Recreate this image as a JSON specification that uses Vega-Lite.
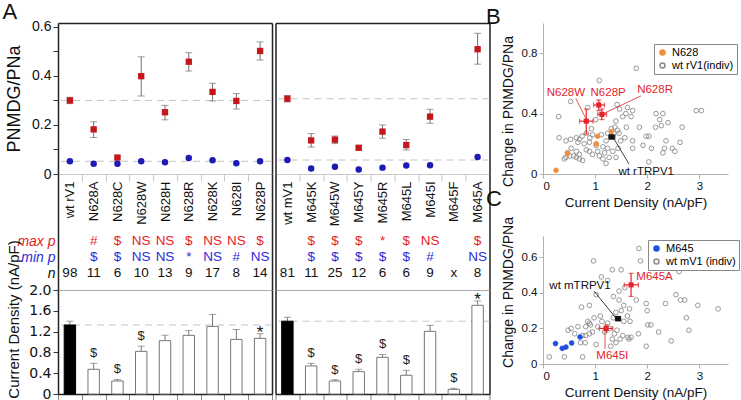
{
"$schema": "https://vega.github.io/schema/vega-lite/v6.json",
"padding": {"left": 2, "top": 0, "right": 0, "bottom": 0},
"background": "white",
"config": {
  "view": {"stroke": null},
  "font": "Liberation Sans",
  "axis": {"labelFont": "Liberation Sans", "titleFont": "Liberation Sans", "grid": false, "titleFontWeight": "normal", "labelColor": "#111", "titleColor": "#111"},
  "title": {"font": "Liberation Sans", "fontWeight": "normal", "fontSize": 22, "anchor": "start", "baseline": "bottom", "offset": 0, "color": "#111", "frame": "group"},
  "text": {"font": "Liberation Sans"}
},
"datasets": {
  "n628": [
    {"m":"wt rV1","grp":"wt","max":0.300,"maxlo":0.287,"maxhi":0.313,"min":0.052,"cd":1.327,"cdhi":1.40,"maxp":"","minp":"","n":"98","sig":""},
    {"m":"N628A","grp":"mut","max":0.182,"maxlo":0.149,"maxhi":0.213,"min":0.042,"cd":0.475,"cdhi":0.59,"maxp":"#","minp":"$","n":"11","sig":"$"},
    {"m":"N628C","grp":"mut","max":0.067,"maxlo":0.061,"maxhi":0.073,"min":0.042,"cd":0.25,"cdhi":0.28,"maxp":"$","minp":"$","n":"6","sig":"$"},
    {"m":"N628W","grp":"mut","max":0.399,"maxlo":0.318,"maxhi":0.478,"min":0.052,"cd":0.82,"cdhi":0.92,"maxp":"NS","minp":"NS","n":"10","sig":"$"},
    {"m":"N628H","grp":"mut","max":0.252,"maxlo":0.221,"maxhi":0.280,"min":0.048,"cd":1.025,"cdhi":1.13,"maxp":"NS","minp":"NS","n":"13","sig":""},
    {"m":"N628R","grp":"mut","max":0.458,"maxlo":0.420,"maxhi":0.495,"min":0.065,"cd":1.128,"cdhi":1.22,"maxp":"$","minp":"*","n":"9","sig":""},
    {"m":"N628K","grp":"mut","max":0.335,"maxlo":0.298,"maxhi":0.370,"min":0.056,"cd":1.30,"cdhi":1.53,"maxp":"NS","minp":"NS","n":"17","sig":""},
    {"m":"N628I","grp":"mut","max":0.298,"maxlo":0.265,"maxhi":0.328,"min":0.044,"cd":1.05,"cdhi":1.24,"maxp":"NS","minp":"#","n":"8","sig":""},
    {"m":"N628P","grp":"mut","max":0.502,"maxlo":0.465,"maxhi":0.539,"min":0.052,"cd":1.07,"cdhi":1.16,"maxp":"$","minp":"NS","n":"14","sig":"*"}
  ],
  "m645": [
    {"m":"wt mV1","grp":"wt","max":0.307,"maxlo":0.294,"maxhi":0.320,"min":0.057,"cd":1.40,"cdhi":1.475,"maxp":"","minp":"","n":"81","sig":""},
    {"m":"M645K","grp":"mut","max":0.137,"maxlo":0.110,"maxhi":0.165,"min":0.022,"cd":0.54,"cdhi":0.59,"maxp":"$","minp":"$","n":"11","sig":"$"},
    {"m":"M645W","grp":"mut","max":0.140,"maxlo":0.124,"maxhi":0.155,"min":0.030,"cd":0.25,"cdhi":0.275,"maxp":"$","minp":"$","n":"25","sig":"$"},
    {"m":"M645Y","grp":"mut","max":0.107,"maxlo":0.100,"maxhi":0.114,"min":0.018,"cd":0.43,"cdhi":0.475,"maxp":"$","minp":"$","n":"12","sig":"$"},
    {"m":"M645R","grp":"mut","max":0.173,"maxlo":0.146,"maxhi":0.200,"min":0.026,"cd":0.705,"cdhi":0.76,"maxp":"*","minp":"$","n":"6","sig":"$"},
    {"m":"M645L","grp":"mut","max":0.118,"maxlo":0.098,"maxhi":0.141,"min":0.035,"cd":0.36,"cdhi":0.455,"maxp":"$","minp":"$","n":"6","sig":"$"},
    {"m":"M645I","grp":"mut","max":0.234,"maxlo":0.207,"maxhi":0.264,"min":0.036,"cd":1.205,"cdhi":1.32,"maxp":"NS","minp":"#","n":"9","sig":""},
    {"m":"M645F","grp":"mut","max":null,"maxlo":null,"maxhi":null,"min":null,"cd":0.09,"cdhi":0.11,"maxp":"","minp":"","n":"x","sig":"$"},
    {"m":"M645A","grp":"mut","max":0.509,"maxlo":0.448,"maxhi":0.574,"min":0.069,"cd":1.705,"cdhi":1.79,"maxp":"$","minp":"NS","n":"8","sig":"*"}
  ],
  "bpts": [
    {"g":"wt rV1(indiv)","cd":1.08,"dp":0.62},{"g":"wt rV1(indiv)","cd":0.53,"dp":0.48},{"g":"wt rV1(indiv)","cd":0.30,"dp":0.38},{"g":"wt rV1(indiv)","cd":0.86,"dp":0.44},
    {"g":"wt rV1(indiv)","cd":1.01,"dp":0.36},{"g":"wt rV1(indiv)","cd":0.31,"dp":0.24},{"g":"wt rV1(indiv)","cd":0.53,"dp":0.23},{"g":"wt rV1(indiv)","cd":0.64,"dp":0.24},
    {"g":"wt rV1(indiv)","cd":0.70,"dp":0.23},{"g":"wt rV1(indiv)","cd":0.75,"dp":0.25},{"g":"wt rV1(indiv)","cd":0.83,"dp":0.27},{"g":"wt rV1(indiv)","cd":0.90,"dp":0.24},
    {"g":"wt rV1(indiv)","cd":0.95,"dp":0.26},{"g":"wt rV1(indiv)","cd":1.12,"dp":0.26},{"g":"wt rV1(indiv)","cd":1.24,"dp":0.27},{"g":"wt rV1(indiv)","cd":1.31,"dp":0.30},
    {"g":"wt rV1(indiv)","cd":1.21,"dp":0.22},{"g":"wt rV1(indiv)","cd":0.89,"dp":0.21},{"g":"wt rV1(indiv)","cd":0.79,"dp":0.20},{"g":"wt rV1(indiv)","cd":0.67,"dp":0.21},
    {"g":"wt rV1(indiv)","cd":0.54,"dp":0.17},{"g":"wt rV1(indiv)","cd":0.44,"dp":0.22},{"g":"wt rV1(indiv)","cd":0.64,"dp":0.15},{"g":"wt rV1(indiv)","cd":0.70,"dp":0.13},
    {"g":"wt rV1(indiv)","cd":0.59,"dp":0.12},{"g":"wt rV1(indiv)","cd":0.51,"dp":0.12},{"g":"wt rV1(indiv)","cd":0.44,"dp":0.11},{"g":"wt rV1(indiv)","cd":0.41,"dp":0.10},
    {"g":"wt rV1(indiv)","cd":0.64,"dp":0.11},{"g":"wt rV1(indiv)","cd":0.70,"dp":0.10},{"g":"wt rV1(indiv)","cd":0.76,"dp":0.09},{"g":"wt rV1(indiv)","cd":0.83,"dp":0.16},
    {"g":"wt rV1(indiv)","cd":0.89,"dp":0.15},{"g":"wt rV1(indiv)","cd":0.95,"dp":0.13},{"g":"wt rV1(indiv)","cd":1.05,"dp":0.15},{"g":"wt rV1(indiv)","cd":1.15,"dp":0.18},
    {"g":"wt rV1(indiv)","cd":1.08,"dp":0.12},{"g":"wt rV1(indiv)","cd":1.24,"dp":0.17},{"g":"wt rV1(indiv)","cd":1.34,"dp":0.15},{"g":"wt rV1(indiv)","cd":1.27,"dp":0.11},
    {"g":"wt rV1(indiv)","cd":1.40,"dp":0.11},{"g":"wt rV1(indiv)","cd":1.15,"dp":0.10},{"g":"wt rV1(indiv)","cd":1.21,"dp":0.07},{"g":"wt rV1(indiv)","cd":1.44,"dp":0.17},
    {"g":"wt rV1(indiv)","cd":1.49,"dp":0.22},{"g":"wt rV1(indiv)","cd":1.57,"dp":0.24},{"g":"wt rV1(indiv)","cd":1.60,"dp":0.31},{"g":"wt rV1(indiv)","cd":1.53,"dp":0.38},
    {"g":"wt rV1(indiv)","cd":1.40,"dp":0.35},{"g":"wt rV1(indiv)","cd":1.59,"dp":0.40},{"g":"wt rV1(indiv)","cd":1.79,"dp":0.70},{"g":"wt rV1(indiv)","cd":2.94,"dp":0.42},
    {"g":"wt rV1(indiv)","cd":3.04,"dp":0.42},{"g":"wt rV1(indiv)","cd":2.17,"dp":0.40},{"g":"wt rV1(indiv)","cd":2.30,"dp":0.40},{"g":"wt rV1(indiv)","cd":2.24,"dp":0.36},
    {"g":"wt rV1(indiv)","cd":2.40,"dp":0.34},{"g":"wt rV1(indiv)","cd":1.72,"dp":0.42},{"g":"wt rV1(indiv)","cd":1.62,"dp":0.44},{"g":"wt rV1(indiv)","cd":1.69,"dp":0.38},
    {"g":"wt rV1(indiv)","cd":1.85,"dp":0.31},{"g":"wt rV1(indiv)","cd":2.16,"dp":0.31},{"g":"wt rV1(indiv)","cd":2.27,"dp":0.32},{"g":"wt rV1(indiv)","cd":2.67,"dp":0.31},
    {"g":"wt rV1(indiv)","cd":1.98,"dp":0.25},{"g":"wt rV1(indiv)","cd":2.03,"dp":0.25},{"g":"wt rV1(indiv)","cd":1.72,"dp":0.22},{"g":"wt rV1(indiv)","cd":2.36,"dp":0.22},
    {"g":"wt rV1(indiv)","cd":2.63,"dp":0.21},{"g":"wt rV1(indiv)","cd":1.92,"dp":0.19},{"g":"wt rV1(indiv)","cd":2.08,"dp":0.17},{"g":"wt rV1(indiv)","cd":1.72,"dp":0.17},
    {"g":"wt rV1(indiv)","cd":2.33,"dp":0.17},{"g":"wt rV1(indiv)","cd":2.48,"dp":0.17},{"g":"wt rV1(indiv)","cd":2.53,"dp":0.15},{"g":"wt rV1(indiv)","cd":2.30,"dp":0.14},
    {"g":"wt rV1(indiv)","cd":2.03,"dp":0.08},{"g":"wt rV1(indiv)","cd":1.42,"dp":0.46},{"g":"wt rV1(indiv)","cd":1.47,"dp":0.43},{"g":"wt rV1(indiv)","cd":1.38,"dp":0.31},
    {"g":"wt rV1(indiv)","cd":1.43,"dp":0.29},{"g":"wt rV1(indiv)","cd":1.36,"dp":0.27},{"g":"wt rV1(indiv)","cd":1.02,"dp":0.19},{"g":"wt rV1(indiv)","cd":0.47,"dp":0.14},
    {"g":"wt rV1(indiv)","cd":1.18,"dp":0.14},{"g":"wt rV1(indiv)","cd":1.46,"dp":0.27},{"g":"wt rV1(indiv)","cd":0.93,"dp":0.30},
    {"g":"N628","cd":0.25,"dp":0.025},{"g":"N628","cd":0.47,"dp":0.135},{"g":"N628","cd":1.02,"dp":0.20},{"g":"N628","cd":1.05,"dp":0.25},{"g":"N628","cd":1.31,"dp":0.28}
  ],
  "berr": [
    {"name":"N628W","k":"mut","x":0.83,"xlo":0.70,"xhi":0.96,"y":0.35,"ylo":0.265,"yhi":0.43},
    {"name":"N628P","k":"mut","x":1.07,"xlo":0.97,"xhi":1.18,"y":0.457,"ylo":0.42,"yhi":0.49},
    {"name":"N628R","k":"mut","x":1.13,"xlo":1.05,"xhi":1.22,"y":0.395,"ylo":0.36,"yhi":0.43},
    {"name":"wt rTRPV1","k":"wt","x":1.32,"xlo":1.26,"xhi":1.38,"y":0.245,"ylo":0.232,"yhi":0.258}
  ],
  "blab": [
    {"t":"N628W","k":"mut","x":0.44,"y":0.535},
    {"t":"N628P","k":"mut","x":1.25,"y":0.535},
    {"t":"N628R","k":"mut","x":2.15,"y":0.556},
    {"t":"wt rTRPV1","k":"wt","x":1.98,"y":0.015}
  ],
  "blin": [
    {"k":"mut","x":0.63,"y":0.50,"x2":0.82,"y2":0.37},
    {"k":"mut","x":1.88,"y":0.517,"x2":1.16,"y2":0.40},
    {"k":"wt","x":1.65,"y":0.066,"x2":1.35,"y2":0.24}
  ],
  "cpts": [
    {"g":"wt mV1 (indiv)","cd":0.97,"dp":0.58},{"g":"wt mV1 (indiv)","cd":1.33,"dp":0.53},{"g":"wt mV1 (indiv)","cd":1.12,"dp":0.49},{"g":"wt mV1 (indiv)","cd":1.24,"dp":0.47},
    {"g":"wt mV1 (indiv)","cd":1.50,"dp":0.53},{"g":"wt mV1 (indiv)","cd":1.57,"dp":0.43},{"g":"wt mV1 (indiv)","cd":1.46,"dp":0.41},{"g":"wt mV1 (indiv)","cd":1.35,"dp":0.38},
    {"g":"wt mV1 (indiv)","cd":1.02,"dp":0.39},{"g":"wt mV1 (indiv)","cd":0.89,"dp":0.33},{"g":"wt mV1 (indiv)","cd":0.74,"dp":0.32},{"g":"wt mV1 (indiv)","cd":0.86,"dp":0.24},
    {"g":"wt mV1 (indiv)","cd":0.89,"dp":0.23},{"g":"wt mV1 (indiv)","cd":0.91,"dp":0.22},{"g":"wt mV1 (indiv)","cd":0.82,"dp":0.21},{"g":"wt mV1 (indiv)","cd":0.67,"dp":0.21},
    {"g":"wt mV1 (indiv)","cd":0.54,"dp":0.20},{"g":"wt mV1 (indiv)","cd":0.48,"dp":0.19},{"g":"wt mV1 (indiv)","cd":0.61,"dp":0.17},{"g":"wt mV1 (indiv)","cd":0.76,"dp":0.16},
    {"g":"wt mV1 (indiv)","cd":0.82,"dp":0.16},{"g":"wt mV1 (indiv)","cd":0.89,"dp":0.17},{"g":"wt mV1 (indiv)","cd":0.95,"dp":0.18},{"g":"wt mV1 (indiv)","cd":1.05,"dp":0.21},
    {"g":"wt mV1 (indiv)","cd":1.13,"dp":0.24},{"g":"wt mV1 (indiv)","cd":1.24,"dp":0.23},{"g":"wt mV1 (indiv)","cd":1.35,"dp":0.26},{"g":"wt mV1 (indiv)","cd":1.40,"dp":0.29},
    {"g":"wt mV1 (indiv)","cd":1.50,"dp":0.30},{"g":"wt mV1 (indiv)","cd":1.37,"dp":0.17},{"g":"wt mV1 (indiv)","cd":1.33,"dp":0.14},{"g":"wt mV1 (indiv)","cd":1.40,"dp":0.12},
    {"g":"wt mV1 (indiv)","cd":1.48,"dp":0.14},{"g":"wt mV1 (indiv)","cd":1.63,"dp":0.15},{"g":"wt mV1 (indiv)","cd":1.53,"dp":0.16},{"g":"wt mV1 (indiv)","cd":0.72,"dp":0.12},
    {"g":"wt mV1 (indiv)","cd":0.81,"dp":0.12},{"g":"wt mV1 (indiv)","cd":1.02,"dp":0.11},{"g":"wt mV1 (indiv)","cd":0.12,"dp":0.04},{"g":"wt mV1 (indiv)","cd":0.41,"dp":0.04},
    {"g":"wt mV1 (indiv)","cd":0.76,"dp":0.04},{"g":"wt mV1 (indiv)","cd":1.84,"dp":0.65},{"g":"wt mV1 (indiv)","cd":1.87,"dp":0.58},{"g":"wt mV1 (indiv)","cd":2.61,"dp":0.52},
    {"g":"wt mV1 (indiv)","cd":2.55,"dp":0.39},{"g":"wt mV1 (indiv)","cd":2.64,"dp":0.36},{"g":"wt mV1 (indiv)","cd":2.72,"dp":0.36},{"g":"wt mV1 (indiv)","cd":1.79,"dp":0.36},
    {"g":"wt mV1 (indiv)","cd":1.98,"dp":0.34},{"g":"wt mV1 (indiv)","cd":2.35,"dp":0.34},{"g":"wt mV1 (indiv)","cd":2.97,"dp":0.33},{"g":"wt mV1 (indiv)","cd":3.36,"dp":0.31},
    {"g":"wt mV1 (indiv)","cd":1.66,"dp":0.31},{"g":"wt mV1 (indiv)","cd":2.00,"dp":0.30},{"g":"wt mV1 (indiv)","cd":2.75,"dp":0.26},{"g":"wt mV1 (indiv)","cd":2.01,"dp":0.22},
    {"g":"wt mV1 (indiv)","cd":2.07,"dp":0.22},{"g":"wt mV1 (indiv)","cd":1.67,"dp":0.24},{"g":"wt mV1 (indiv)","cd":2.80,"dp":0.19},{"g":"wt mV1 (indiv)","cd":2.22,"dp":0.18},
    {"g":"wt mV1 (indiv)","cd":1.83,"dp":0.17},{"g":"wt mV1 (indiv)","cd":1.69,"dp":0.15},{"g":"wt mV1 (indiv)","cd":1.65,"dp":0.14},{"g":"wt mV1 (indiv)","cd":2.46,"dp":0.13},
    {"g":"wt mV1 (indiv)","cd":1.98,"dp":0.10},{"g":"wt mV1 (indiv)","cd":1.46,"dp":0.36},{"g":"wt mV1 (indiv)","cd":1.55,"dp":0.33},{"g":"wt mV1 (indiv)","cd":1.28,"dp":0.20},
    {"g":"wt mV1 (indiv)","cd":1.18,"dp":0.18},{"g":"wt mV1 (indiv)","cd":1.42,"dp":0.19},{"g":"wt mV1 (indiv)","cd":1.10,"dp":0.27},{"g":"wt mV1 (indiv)","cd":1.62,"dp":0.27},
    {"g":"wt mV1 (indiv)","cd":0.98,"dp":0.26},{"g":"wt mV1 (indiv)","cd":1.30,"dp":0.10},{"g":"wt mV1 (indiv)","cd":1.55,"dp":0.24},
    {"g":"M645","cd":0.24,"dp":0.115},{"g":"M645","cd":0.37,"dp":0.088},{"g":"M645","cd":0.44,"dp":0.095},{"g":"M645","cd":0.55,"dp":0.118},{"g":"M645","cd":0.71,"dp":0.152}
  ],
  "cerr": [
    {"name":"M645A","k":"mut","x":1.69,"xlo":1.56,"xhi":1.83,"y":0.445,"ylo":0.38,"yhi":0.51},
    {"name":"M645I","k":"mut","x":1.21,"xlo":1.08,"xhi":1.34,"y":0.20,"ylo":0.18,"yhi":0.22},
    {"name":"wt mTRPV1","k":"wt","x":1.44,"xlo":1.39,"xhi":1.49,"y":0.255,"ylo":0.245,"yhi":0.265}
  ],
  "clab": [
    {"t":"M645A","k":"mut","x":2.14,"y":0.49},
    {"t":"M645I","k":"mut","x":1.33,"y":0.045},
    {"t":"wt mTRPV1","k":"wt","x":0.71,"y":0.44}
  ],
  "clin": [
    {"k":"mut","x":1.19,"y":0.085,"x2":1.19,"y2":0.175},
    {"k":"wt","x":0.98,"y":0.41,"x2":1.40,"y2":0.258}
  ]
},
"hconcat": [
  {"title": {"text": "A", "frame": "bounds", "dx": -3, "offset": -4},
   "hconcat": [
    {"vconcat": [
      {"width":214,"height":151,
       "data":{"name":"n628"},
       "layer":[
         {"transform":[{"filter":"datum.grp == 'wt'"}],"mark":{"type":"rule","strokeDash":[7,5],"color":"#c4c4c4"},"encoding":{"y":{"field":"max","type":"quantitative","scale":{"domain":[0,0.616],"nice":false},"axis":null}}},
         {"transform":[{"filter":"datum.grp == 'wt'"}],"mark":{"type":"rule","strokeDash":[7,5],"color":"#c4c4c4"},"encoding":{"y":{"field":"min","type":"quantitative","axis":null}}},
         {"mark":{"type":"rule","color":"#707070"},"encoding":{
           "x":{"field":"m","type":"nominal","sort":null,"scale":{"type":"band","padding":0,"domain":["wt rV1","N628A","N628C","N628W","N628H","N628R","N628K","N628I","N628P"]},
                "axis":{"orient":"bottom","title":null,"domainColor":"#c8c8c8","tickColor":"#c8c8c8","tickSize":7,"tickBand":"extent","labelAngle":-90,"labelFontSize":13,"labelPadding":0,"labelColor":"#111"}},
           "y":{"field":"maxlo","type":"quantitative","axis":{"orient":"left","title":"PNMDG/PNa","values":[0,0.1,0.2,0.3,0.4,0.5,0.6],"labelExpr":"datum.value == 0 ? '0' : (round(datum.value * 10) % 2 == 0 ? format(datum.value, '.1f') : '')","domainColor":"#222","domainWidth":1.5,"tickColor":"#333","tickSize":5,"labelFontSize":14,"labelPadding":2,"titleFontSize":18,"titlePadding":8}},
           "y2":{"field":"maxhi"}}},
         {"mark":{"type":"tick","color":"#707070","size":7,"thickness":1,"orient":"horizontal"},"encoding":{"x":{"field":"m","type":"nominal","axis":null},"y":{"field":"maxlo","type":"quantitative","axis":null}}},
         {"mark":{"type":"tick","color":"#707070","size":7,"thickness":1,"orient":"horizontal"},"encoding":{"x":{"field":"m","type":"nominal","axis":null},"y":{"field":"maxhi","type":"quantitative","axis":null}}},
         {"mark":{"type":"square","filled":true,"color":"#c4161c","size":40,"opacity":1},"encoding":{"x":{"field":"m","type":"nominal","axis":null},"y":{"field":"max","type":"quantitative","axis":null}}},
         {"mark":{"type":"circle","color":"#1c1cb4","size":42,"opacity":1},"encoding":{"x":{"field":"m","type":"nominal","axis":null},"y":{"field":"min","type":"quantitative","axis":null}}},
         {"mark":{"type":"point","opacity":0},"encoding":{
           "x":{"field":"m","type":"nominal","axis":{"orient":"top","title":null,"labels":false,"ticks":false,"domainColor":"#222","domainWidth":1.5}},
           "y":{"field":"max","type":"quantitative","axis":{"orient":"right","title":null,"labels":false,"ticks":false,"domainColor":"#222","domainWidth":1.5}}}}
       ],
       "resolve":{"axis":{"x":"independent","y":"independent"}}
      },
      {"width":214,"height":116,
       "data":{"name":"n628"},
       "transform":[{"fold":["maxp","minp","n"],"as":["row","lab"]}],
       "layer":[
         {"mark":{"type":"text","fontSize":13.5,"baseline":"middle"},"encoding":{
           "x":{"field":"m","type":"nominal","scale":{"type":"band","padding":0,"domain":["wt rV1","N628A","N628C","N628W","N628H","N628R","N628K","N628I","N628P"]},"axis":null},
           "y":{"field":"row","type":"nominal","scale":{"type":"point","domain":["d0","d1","d2","d3","maxp","minp","n","d7"],"padding":0.125,"align":0.75},
                "axis":{"orient":"left","title":null,"ticks":false,"domainColor":"#222","domainWidth":1.5,"labelFontSize":14,"labelFontStyle":"italic","labelPadding":3,
                        "labelExpr":"datum.value == 'maxp' ? 'max p' : (datum.value == 'minp' ? 'min p' : (datum.value == 'n' ? 'n' : ''))",
                        "labelColor":{"condition":[{"test":"datum.value == 'maxp'","value":"#e4231f"},{"test":"datum.value == 'minp'","value":"#2b2bd6"}],"value":"#111"}}},
           "text":{"field":"lab"},
           "color":{"field":"row","type":"nominal","scale":{"domain":["maxp","minp","n"],"range":["#e4231f","#2b2bd6","#111111"]},"legend":null}}},
         {"mark":{"type":"point","opacity":0},"encoding":{"y":{"field":"row","type":"nominal","axis":{"orient":"right","title":null,"labels":false,"ticks":false,"domainColor":"#222","domainWidth":1.5}}}}
       ],
       "resolve":{"axis":{"y":"independent"}}
      },
      {"width":214,"height":104,
       "data":{"name":"n628"},
       "layer":[
         {"transform":[{"filter":"datum.grp == 'wt'"}],"mark":{"type":"rule","strokeDash":[7,5],"color":"#c4c4c4"},"encoding":{"y":{"field":"cd","type":"quantitative","scale":{"domain":[0,2],"nice":false},"axis":null}}},
         {"mark":{"type":"rule","color":"#777"},"encoding":{"x":{"field":"m","type":"nominal","scale":{"type":"band","padding":0,"domain":["wt rV1","N628A","N628C","N628W","N628H","N628R","N628K","N628I","N628P"]},"axis":null},"y":{"field":"cd","type":"quantitative","axis":null},"y2":{"field":"cdhi"}}},
         {"mark":{"type":"tick","color":"#777","size":7,"thickness":1,"orient":"horizontal"},"encoding":{"x":{"field":"m","type":"nominal","axis":null},"y":{"field":"cdhi","type":"quantitative","axis":null}}},
         {"mark":{"type":"bar","width":{"band":0.48},"strokeWidth":1},"encoding":{
           "x":{"field":"m","type":"nominal","axis":{"orient":"bottom","title":null,"labels":false,"domainColor":"#222","domainWidth":1.5,"tickColor":"#888","tickSize":6,"tickBand":"extent"}},
           "y":{"field":"cd","type":"quantitative","axis":{"orient":"left","title":"Current Density  (nA/pF)","values":[0,0.4,0.8,1.2,1.6,2],"labelExpr":"datum.value == 0 ? '0' : format(datum.value, '.1f')","labelFont":"DejaVu Sans","labelFontSize":14,"labelPadding":2,"tickColor":"#333","tickSize":5,"domainColor":"#222","domainWidth":1.5,"titleFontSize":15,"titlePadding":7,"titleY":29}},
           "fill":{"field":"grp","type":"nominal","scale":{"domain":["wt","mut"],"range":["#000000","#ffffff"]},"legend":null},
           "stroke":{"field":"grp","type":"nominal","scale":{"domain":["wt","mut"],"range":["#000000","#777777"]},"legend":null}}},
         {"transform":[{"filter":"datum.sig == '$'"}],"mark":{"type":"text","fontSize":13,"baseline":"middle","dy":-10,"fill":"#222222"},"encoding":{"x":{"field":"m","type":"nominal","axis":null},"y":{"field":"cdhi","type":"quantitative","axis":null},"text":{"field":"sig"}}},
         {"transform":[{"filter":"datum.sig == '*'"}],"mark":{"type":"text","fontSize":17,"baseline":"middle","dy":-1,"fill":"#111111"},"encoding":{"x":{"field":"m","type":"nominal","axis":null},"y":{"field":"cdhi","type":"quantitative","axis":null},"text":{"field":"sig"}}},
         {"mark":{"type":"point","opacity":0},"encoding":{
           "x":{"field":"m","type":"nominal","axis":{"orient":"top","title":null,"labels":false,"ticks":false,"domainColor":"#aaa","domainWidth":1}},
           "y":{"field":"cd","type":"quantitative","axis":{"orient":"right","title":null,"labels":false,"ticks":false,"domainColor":"#222","domainWidth":1.5}}}}
       ],
       "resolve":{"axis":{"x":"independent","y":"independent"}}
      }
    ], "spacing": 0, "bounds": "flush"},
    {"vconcat": [
      {"width":214,"height":151,
       "data":{"name":"m645"},
       "layer":[
         {"transform":[{"filter":"datum.grp == 'wt'"}],"mark":{"type":"rule","strokeDash":[7,5],"color":"#c4c4c4"},"encoding":{"y":{"field":"max","type":"quantitative","scale":{"domain":[0,0.616],"nice":false},"axis":null}}},
         {"transform":[{"filter":"datum.grp == 'wt'"}],"mark":{"type":"rule","strokeDash":[7,5],"color":"#c4c4c4"},"encoding":{"y":{"field":"min","type":"quantitative","axis":null}}},
         {"mark":{"type":"rule","color":"#707070"},"encoding":{
           "x":{"field":"m","type":"nominal","sort":null,"scale":{"type":"band","padding":0,"domain":["wt mV1","M645K","M645W","M645Y","M645R","M645L","M645I","M645F","M645A"]},
                "axis":{"orient":"bottom","title":null,"domainColor":"#c8c8c8","tickColor":"#c8c8c8","tickSize":7,"tickBand":"extent","labelAngle":-90,"labelFontSize":13,"labelPadding":0,"labelColor":"#111"}},
           "y":{"field":"maxlo","type":"quantitative","axis":{"orient":"left","title":null,"labels":false,"ticks":false,"domainColor":"#222","domainWidth":1.5}},
           "y2":{"field":"maxhi"}}},
         {"mark":{"type":"tick","color":"#707070","size":7,"thickness":1,"orient":"horizontal"},"encoding":{"x":{"field":"m","type":"nominal","axis":null},"y":{"field":"maxlo","type":"quantitative","axis":null}}},
         {"mark":{"type":"tick","color":"#707070","size":7,"thickness":1,"orient":"horizontal"},"encoding":{"x":{"field":"m","type":"nominal","axis":null},"y":{"field":"maxhi","type":"quantitative","axis":null}}},
         {"mark":{"type":"square","filled":true,"color":"#c4161c","size":40,"opacity":1},"encoding":{"x":{"field":"m","type":"nominal","axis":null},"y":{"field":"max","type":"quantitative","axis":null}}},
         {"mark":{"type":"circle","color":"#1c1cb4","size":42,"opacity":1},"encoding":{"x":{"field":"m","type":"nominal","axis":null},"y":{"field":"min","type":"quantitative","axis":null}}},
         {"mark":{"type":"point","opacity":0},"encoding":{
           "x":{"field":"m","type":"nominal","axis":{"orient":"top","title":null,"labels":false,"ticks":false,"domainColor":"#222","domainWidth":1.5}},
           "y":{"field":"max","type":"quantitative","axis":{"orient":"right","title":null,"labels":false,"ticks":false,"domainColor":"#222","domainWidth":1.5}}}}
       ],
       "resolve":{"axis":{"x":"independent","y":"independent"}}
      },
      {"width":214,"height":116,
       "data":{"name":"m645"},
       "transform":[{"fold":["maxp","minp","n"],"as":["row","lab"]}],
       "layer":[
         {"mark":{"type":"text","fontSize":13.5,"baseline":"middle"},"encoding":{
           "x":{"field":"m","type":"nominal","scale":{"type":"band","padding":0,"domain":["wt mV1","M645K","M645W","M645Y","M645R","M645L","M645I","M645F","M645A"]},"axis":null},
           "y":{"field":"row","type":"nominal","scale":{"type":"point","domain":["d0","d1","d2","d3","maxp","minp","n","d7"],"padding":0.125,"align":0.75},
                "axis":{"orient":"left","title":null,"labels":false,"ticks":false,"domainColor":"#222","domainWidth":1.5}},
           "text":{"field":"lab"},
           "color":{"field":"row","type":"nominal","scale":{"domain":["maxp","minp","n"],"range":["#e4231f","#2b2bd6","#111111"]},"legend":null}}},
         {"mark":{"type":"point","opacity":0},"encoding":{"y":{"field":"row","type":"nominal","axis":{"orient":"right","title":null,"labels":false,"ticks":false,"domainColor":"#222","domainWidth":1.5}}}}
       ],
       "resolve":{"axis":{"y":"independent"}}
      },
      {"width":214,"height":104,
       "data":{"name":"m645"},
       "layer":[
         {"transform":[{"filter":"datum.grp == 'wt'"}],"mark":{"type":"rule","strokeDash":[7,5],"color":"#c4c4c4"},"encoding":{"y":{"field":"cd","type":"quantitative","scale":{"domain":[0,2],"nice":false},"axis":null}}},
         {"mark":{"type":"rule","color":"#777"},"encoding":{"x":{"field":"m","type":"nominal","scale":{"type":"band","padding":0,"domain":["wt mV1","M645K","M645W","M645Y","M645R","M645L","M645I","M645F","M645A"]},"axis":null},"y":{"field":"cd","type":"quantitative","axis":null},"y2":{"field":"cdhi"}}},
         {"mark":{"type":"tick","color":"#777","size":7,"thickness":1,"orient":"horizontal"},"encoding":{"x":{"field":"m","type":"nominal","axis":null},"y":{"field":"cdhi","type":"quantitative","axis":null}}},
         {"mark":{"type":"bar","width":{"band":0.48},"strokeWidth":1},"encoding":{
           "x":{"field":"m","type":"nominal","axis":{"orient":"bottom","title":null,"labels":false,"domainColor":"#222","domainWidth":1.5,"tickColor":"#888","tickSize":6,"tickBand":"extent"}},
           "y":{"field":"cd","type":"quantitative","axis":{"orient":"left","title":null,"labels":false,"ticks":false,"domainColor":"#222","domainWidth":1.5}},
           "fill":{"field":"grp","type":"nominal","scale":{"domain":["wt","mut"],"range":["#000000","#ffffff"]},"legend":null},
           "stroke":{"field":"grp","type":"nominal","scale":{"domain":["wt","mut"],"range":["#000000","#777777"]},"legend":null}}},
         {"transform":[{"filter":"datum.sig == '$'"}],"mark":{"type":"text","fontSize":13,"baseline":"middle","dy":-10,"fill":"#222222"},"encoding":{"x":{"field":"m","type":"nominal","axis":null},"y":{"field":"cdhi","type":"quantitative","axis":null},"text":{"field":"sig"}}},
         {"transform":[{"filter":"datum.sig == '*'"}],"mark":{"type":"text","fontSize":17,"baseline":"middle","dy":-1,"fill":"#111111"},"encoding":{"x":{"field":"m","type":"nominal","axis":null},"y":{"field":"cdhi","type":"quantitative","axis":null},"text":{"field":"sig"}}},
         {"mark":{"type":"point","opacity":0},"encoding":{
           "x":{"field":"m","type":"nominal","axis":{"orient":"top","title":null,"labels":false,"ticks":false,"domainColor":"#aaa","domainWidth":1}},
           "y":{"field":"cd","type":"quantitative","axis":{"orient":"right","title":null,"labels":false,"ticks":false,"domainColor":"#222","domainWidth":1.5}}}}
       ],
       "resolve":{"axis":{"x":"independent","y":"independent"}}
      }
    ], "spacing": 0, "bounds": "flush"}
  ], "spacing": -3.5},
  {"vconcat": [
    {"width":185,"height":151,
     "title":{"text":"B","dx":-57,"offset":-6},
     "layer":[
       {"data":{"name":"bpts"},"mark":{"type":"point","size":22,"strokeWidth":0.9,"opacity":1},"encoding":{
         "x":{"field":"cd","type":"quantitative","scale":{"domain":[0,3.55],"nice":false},"axis":{"values":[0,1,2,3],"title":"Current Density (nA/pF)","domainColor":"#b0b0b0","tickColor":"#b0b0b0","tickSize":4,"labelFontSize":11.5,"labelPadding":2,"titleFontSize":13.5,"titlePadding":4}},
         "y":{"field":"dp","type":"quantitative","scale":{"domain":[0,1],"nice":false},"axis":{"values":[0,0.2,0.4,0.6,0.8],"title":"Change in PNMDG/PNa","labelExpr":"datum.value == 0 ? '0' : format(datum.value, '.1f')","domainColor":"#b0b0b0","tickColor":"#b0b0b0","tickSize":4,"labelFontSize":11.5,"labelPadding":2,"titleFontSize":14,"titlePadding":6,"titleY":88}},
         "fill":{"field":"g","type":"nominal","scale":{"domain":["N628","wt rV1(indiv)"],"range":["#f28e3b","transparent"]},"legend":{"orient":"none","legendX":111,"legendY":21,"title":null,"strokeColor":"#888","fillColor":"#ffffff","padding":3,"labelFontSize":11,"symbolSize":25,"rowPadding":1,"labelOffset":4}},
         "stroke":{"field":"g","type":"nominal","scale":{"domain":["N628","wt rV1(indiv)"],"range":["#f28e3b","#8c8c8c"]},"legend":{"orient":"none","legendX":111,"legendY":21,"title":null,"strokeColor":"#888","fillColor":"#ffffff","padding":3,"labelFontSize":11,"symbolSize":25,"rowPadding":1,"labelOffset":4}}}},
       {"data":{"name":"blin"},"transform":[{"filter":"datum.k == 'mut'"}],"mark":{"type":"rule","strokeWidth":0.8,"color":"#e3242b"},"encoding":{"x":{"field":"x","type":"quantitative"},"y":{"field":"y","type":"quantitative"},"x2":{"field":"x2"},"y2":{"field":"y2"}}},
       {"data":{"name":"blin"},"transform":[{"filter":"datum.k == 'wt'"}],"mark":{"type":"rule","strokeWidth":0.8,"color":"#111111"},"encoding":{"x":{"field":"x","type":"quantitative"},"y":{"field":"y","type":"quantitative"},"x2":{"field":"x2"},"y2":{"field":"y2"}}},
       {"data":{"name":"berr"},"transform":[{"filter":"datum.k == 'mut'"}],"layer":[
         {"mark":{"type":"rule","strokeWidth":1.2,"color":"#e3242b"},"encoding":{"x":{"field":"xlo","type":"quantitative"},"x2":{"field":"xhi"},"y":{"field":"y","type":"quantitative"}}},
         {"mark":{"type":"rule","strokeWidth":1.2,"color":"#e3242b"},"encoding":{"x":{"field":"x","type":"quantitative"},"y":{"field":"ylo","type":"quantitative"},"y2":{"field":"yhi"}}},
         {"mark":{"type":"tick","orient":"vertical","size":5,"thickness":1.2,"color":"#e3242b"},"encoding":{"x":{"field":"xlo","type":"quantitative"},"y":{"field":"y","type":"quantitative"}}},
         {"mark":{"type":"tick","orient":"vertical","size":5,"thickness":1.2,"color":"#e3242b"},"encoding":{"x":{"field":"xhi","type":"quantitative"},"y":{"field":"y","type":"quantitative"}}},
         {"mark":{"type":"tick","orient":"horizontal","size":5,"thickness":1.2,"color":"#e3242b"},"encoding":{"x":{"field":"x","type":"quantitative"},"y":{"field":"ylo","type":"quantitative"}}},
         {"mark":{"type":"tick","orient":"horizontal","size":5,"thickness":1.2,"color":"#e3242b"},"encoding":{"x":{"field":"x","type":"quantitative"},"y":{"field":"yhi","type":"quantitative"}}},
         {"mark":{"type":"square","filled":true,"size":26,"opacity":1,"color":"#e3242b"},"encoding":{"x":{"field":"x","type":"quantitative"},"y":{"field":"y","type":"quantitative"}}}
       ]},
       {"data":{"name":"berr"},"transform":[{"filter":"datum.k == 'wt'"}],"layer":[
         {"mark":{"type":"rule","strokeWidth":1.2,"color":"#111111"},"encoding":{"x":{"field":"xlo","type":"quantitative"},"x2":{"field":"xhi"},"y":{"field":"y","type":"quantitative"}}},
         {"mark":{"type":"rule","strokeWidth":1.2,"color":"#111111"},"encoding":{"x":{"field":"x","type":"quantitative"},"y":{"field":"ylo","type":"quantitative"},"y2":{"field":"yhi"}}},
         {"mark":{"type":"tick","orient":"vertical","size":5,"thickness":1.2,"color":"#111111"},"encoding":{"x":{"field":"xlo","type":"quantitative"},"y":{"field":"y","type":"quantitative"}}},
         {"mark":{"type":"tick","orient":"vertical","size":5,"thickness":1.2,"color":"#111111"},"encoding":{"x":{"field":"xhi","type":"quantitative"},"y":{"field":"y","type":"quantitative"}}},
         {"mark":{"type":"square","filled":true,"size":30,"opacity":1,"color":"#111111"},"encoding":{"x":{"field":"x","type":"quantitative"},"y":{"field":"y","type":"quantitative"}}}
       ]},
       {"data":{"name":"blab"},"transform":[{"filter":"datum.k == 'mut'"}],"mark":{"type":"text","fontSize":11.5,"baseline":"middle","color":"#e3242b"},"encoding":{"x":{"field":"x","type":"quantitative"},"y":{"field":"y","type":"quantitative"},"text":{"field":"t"}}},
       {"data":{"name":"blab"},"transform":[{"filter":"datum.k == 'wt'"}],"mark":{"type":"text","fontSize":11.5,"baseline":"middle","color":"#111111"},"encoding":{"x":{"field":"x","type":"quantitative"},"y":{"field":"y","type":"quantitative"},"text":{"field":"t"}}}
     ]
    },
    {"width":185,"height":128,
     "title":{"text":"C","dx":-57,"offset":6},
     "layer":[
       {"data":{"name":"cpts"},"mark":{"type":"point","size":22,"strokeWidth":0.9,"opacity":1},"encoding":{
         "x":{"field":"cd","type":"quantitative","scale":{"domain":[0,3.55],"nice":false},"axis":{"values":[0,1,2,3],"title":"Current Density (nA/pF)","domainColor":"#b0b0b0","tickColor":"#b0b0b0","tickSize":4,"labelFontSize":11.5,"labelPadding":2,"titleFontSize":13.5,"titlePadding":4}},
         "y":{"field":"dp","type":"quantitative","scale":{"domain":[0,0.72],"nice":false},"axis":{"values":[0,0.2,0.4,0.6],"title":"Change in PNMDG/PNa","labelExpr":"datum.value == 0 ? '0' : format(datum.value, '.1f')","domainColor":"#b0b0b0","tickColor":"#b0b0b0","tickSize":4,"labelFontSize":11.5,"labelPadding":2,"titleFontSize":14,"titlePadding":6,"titleY":56}},
         "fill":{"field":"g","type":"nominal","scale":{"domain":["M645","wt mV1 (indiv)"],"range":["#1f4fe0","transparent"]},"legend":{"orient":"none","legendX":105,"legendY":4,"title":null,"strokeColor":"#888","fillColor":"#ffffff","padding":3,"labelFontSize":11,"symbolSize":25,"rowPadding":1,"labelOffset":4}},
         "stroke":{"field":"g","type":"nominal","scale":{"domain":["M645","wt mV1 (indiv)"],"range":["#1f4fe0","#8c8c8c"]},"legend":{"orient":"none","legendX":105,"legendY":4,"title":null,"strokeColor":"#888","fillColor":"#ffffff","padding":3,"labelFontSize":11,"symbolSize":25,"rowPadding":1,"labelOffset":4}}}},
       {"data":{"name":"clin"},"transform":[{"filter":"datum.k == 'mut'"}],"mark":{"type":"rule","strokeWidth":0.8,"color":"#e3242b"},"encoding":{"x":{"field":"x","type":"quantitative"},"y":{"field":"y","type":"quantitative"},"x2":{"field":"x2"},"y2":{"field":"y2"}}},
       {"data":{"name":"clin"},"transform":[{"filter":"datum.k == 'wt'"}],"mark":{"type":"rule","strokeWidth":0.8,"color":"#111111"},"encoding":{"x":{"field":"x","type":"quantitative"},"y":{"field":"y","type":"quantitative"},"x2":{"field":"x2"},"y2":{"field":"y2"}}},
       {"data":{"name":"cerr"},"transform":[{"filter":"datum.k == 'mut'"}],"layer":[
         {"mark":{"type":"rule","strokeWidth":1.2,"color":"#e3242b"},"encoding":{"x":{"field":"xlo","type":"quantitative"},"x2":{"field":"xhi"},"y":{"field":"y","type":"quantitative"}}},
         {"mark":{"type":"rule","strokeWidth":1.2,"color":"#e3242b"},"encoding":{"x":{"field":"x","type":"quantitative"},"y":{"field":"ylo","type":"quantitative"},"y2":{"field":"yhi"}}},
         {"mark":{"type":"tick","orient":"vertical","size":5,"thickness":1.2,"color":"#e3242b"},"encoding":{"x":{"field":"xlo","type":"quantitative"},"y":{"field":"y","type":"quantitative"}}},
         {"mark":{"type":"tick","orient":"vertical","size":5,"thickness":1.2,"color":"#e3242b"},"encoding":{"x":{"field":"xhi","type":"quantitative"},"y":{"field":"y","type":"quantitative"}}},
         {"mark":{"type":"tick","orient":"horizontal","size":5,"thickness":1.2,"color":"#e3242b"},"encoding":{"x":{"field":"x","type":"quantitative"},"y":{"field":"ylo","type":"quantitative"}}},
         {"mark":{"type":"tick","orient":"horizontal","size":5,"thickness":1.2,"color":"#e3242b"},"encoding":{"x":{"field":"x","type":"quantitative"},"y":{"field":"yhi","type":"quantitative"}}},
         {"mark":{"type":"square","filled":true,"size":26,"opacity":1,"color":"#e3242b"},"encoding":{"x":{"field":"x","type":"quantitative"},"y":{"field":"y","type":"quantitative"}}}
       ]},
       {"data":{"name":"cerr"},"transform":[{"filter":"datum.k == 'wt'"}],"layer":[
         {"mark":{"type":"rule","strokeWidth":1.2,"color":"#111111"},"encoding":{"x":{"field":"xlo","type":"quantitative"},"x2":{"field":"xhi"},"y":{"field":"y","type":"quantitative"}}},
         {"mark":{"type":"rule","strokeWidth":1.2,"color":"#111111"},"encoding":{"x":{"field":"x","type":"quantitative"},"y":{"field":"ylo","type":"quantitative"},"y2":{"field":"yhi"}}},
         {"mark":{"type":"tick","orient":"vertical","size":5,"thickness":1.2,"color":"#111111"},"encoding":{"x":{"field":"xlo","type":"quantitative"},"y":{"field":"y","type":"quantitative"}}},
         {"mark":{"type":"tick","orient":"vertical","size":5,"thickness":1.2,"color":"#111111"},"encoding":{"x":{"field":"xhi","type":"quantitative"},"y":{"field":"y","type":"quantitative"}}},
         {"mark":{"type":"square","filled":true,"size":30,"opacity":1,"color":"#111111"},"encoding":{"x":{"field":"x","type":"quantitative"},"y":{"field":"y","type":"quantitative"}}}
       ]},
       {"data":{"name":"clab"},"transform":[{"filter":"datum.k == 'mut'"}],"mark":{"type":"text","fontSize":11.5,"baseline":"middle","color":"#e3242b"},"encoding":{"x":{"field":"x","type":"quantitative"},"y":{"field":"y","type":"quantitative"},"text":{"field":"t"}}},
       {"data":{"name":"clab"},"transform":[{"filter":"datum.k == 'wt'"}],"mark":{"type":"text","fontSize":11.5,"baseline":"middle","color":"#111111"},"encoding":{"x":{"field":"x","type":"quantitative"},"y":{"field":"y","type":"quantitative"},"text":{"field":"t"}}}
     ]
    }
  ], "spacing": -22,
  "resolve": {"scale": {"color": "independent", "fill": "independent", "stroke": "independent"}, "legend": {"color": "independent", "fill": "independent", "stroke": "independent"}}}
],
"spacing": -4,
"resolve": {"scale": {"color": "independent", "fill": "independent", "stroke": "independent"}, "legend": {"color": "independent", "fill": "independent", "stroke": "independent"}}
}
